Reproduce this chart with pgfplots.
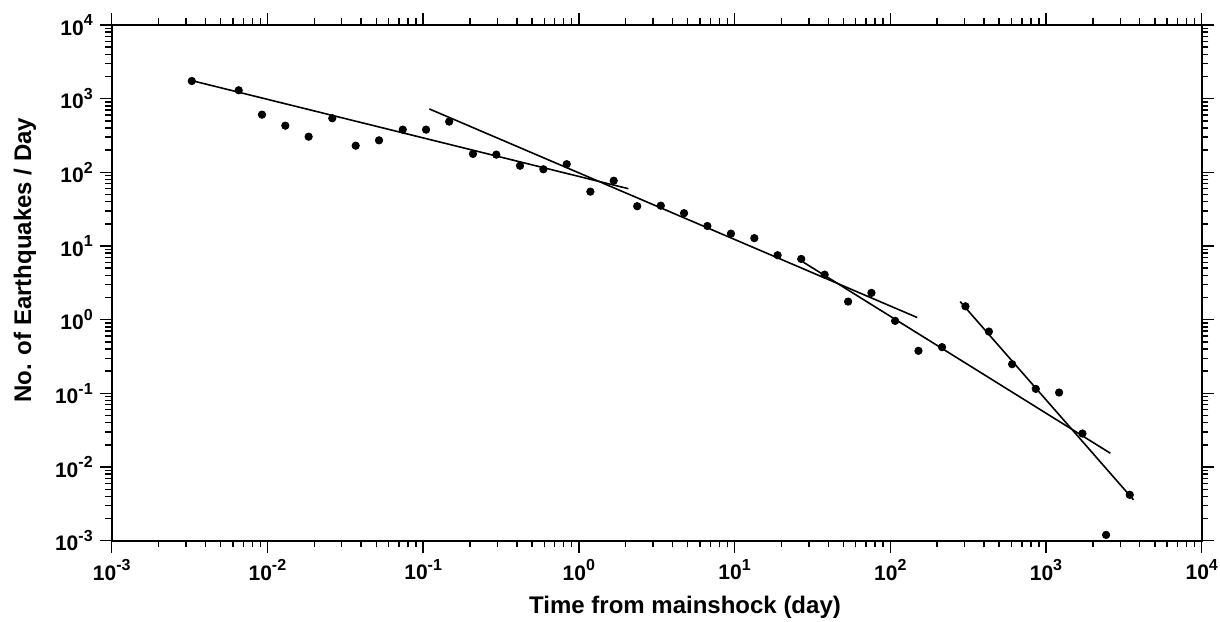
\documentclass[border=0pt]{standalone}
\usepackage{fontspec}
\setmainfont{Liberation Sans}
\usepackage{pgfplots}
\pgfplotsset{compat=1.18}
\newcommand{\pw}[1]{10\raisebox{4.6pt}{\fontsize{8}{8}\selectfont\bfseries #1}}
\pgfplotstableread{
x y
0.00327 1738
0.00654 1300
0.00923 607
0.01303 430
0.0184 305
0.0261 542
0.0369 230
0.0521 272
0.0740 380
0.1045 380
0.147 488
0.209 178
0.295 174
0.419 123
0.592 110
0.836 129
1.186 54.7
1.675 77
2.37 34.7
3.36 35.3
4.74 27.9
6.69 18.7
9.48 14.7
13.4 12.8
18.9 7.50
26.8 6.68
37.9 4.09
53.6 1.76
75.7 2.31
107.4 0.964
151.7 0.378
215 0.424
304 1.52
430 0.690
606 0.249
860 0.115
1214 0.1026
1714 0.0285
2432 0.00120
3451 0.0042
}\pts
\begin{document}
\begin{tikzpicture}
\begin{axis}[
  at={(0,0)}, anchor=south west,
  scale only axis, width=545pt, height=257.85pt,
  xmode=log, ymode=log,
  xmin=1e-3, xmax=1e4, ymin=1e-3, ymax=1e4,
  xtick={1e-3,1e-2,1e-1,1,10,100,1000,10000},
  ytick={1e-3,1e-2,1e-1,1,10,100,1000,10000},
  xticklabels={\pw{-3},\pw{-2},\pw{-1},\pw{0},\pw{1},\pw{2},\pw{3},\pw{4}},
  yticklabels={\pw{-3},\pw{-2},\pw{-1},\pw{0},\pw{1},\pw{2},\pw{3},\pw{4}},
  minor xtick={2e-3,3e-3,4e-3,5e-3,6e-3,7e-3,8e-3,9e-3,2e-2,3e-2,4e-2,5e-2,6e-2,7e-2,8e-2,9e-2,0.2,0.3,0.4,0.5,0.6,0.7,0.8,0.9,2,3,4,5,6,7,8,9,20,30,40,50,60,70,80,90,200,300,400,500,600,700,800,900,2000,3000,4000,5000,6000,7000,8000,9000},
  minor ytick={2e-3,3e-3,4e-3,5e-3,6e-3,7e-3,8e-3,9e-3,2e-2,3e-2,4e-2,5e-2,6e-2,7e-2,8e-2,9e-2,0.2,0.3,0.4,0.5,0.6,0.7,0.8,0.9,2,3,4,5,6,7,8,9,20,30,40,50,60,70,80,90,200,300,400,500,600,700,800,900,2000,3000,4000,5000,6000,7000,8000,9000},
  tick align=outside,
  major tick length=6pt, minor tick length=3.3pt,
  every tick/.style={black, line width=0.7pt},
  axis line style={line width=1pt},
  tick label style={font=\fontsize{10.5}{12}\selectfont\bfseries},
  xlabel={Time from mainshock (day)},
  ylabel={No. of Earthquakes / Day},
  label style={font=\fontsize{12}{14}\selectfont\bfseries},
  xlabel style={at={(axis description cs:0.526,-0.1402)}, anchor=base},
  ylabel style={at={(axis description cs:-0.0740,0.544)}, anchor=base},
  clip=false,
]
\addplot[only marks, mark=*, mark size=1.85pt, black] table[x=x,y=y] {\pts};
\addplot[black, line width=0.8pt] coordinates {(0.0033,1750) (2.08,60)};
\addplot[black, line width=0.8pt] coordinates {(0.1097,725) (149,1.07)};
\addplot[black, line width=0.8pt] coordinates {(27.5,6.08) (2590,0.0154)};
\addplot[black, line width=0.8pt] coordinates {(281,1.76) (3648,0.00359)};
\end{axis}
\pgfresetboundingbox
\path[use as bounding box] (-55.85pt,-40.15pt) rectangle (554.15pt,270.35pt);
\end{tikzpicture}
\end{document}
